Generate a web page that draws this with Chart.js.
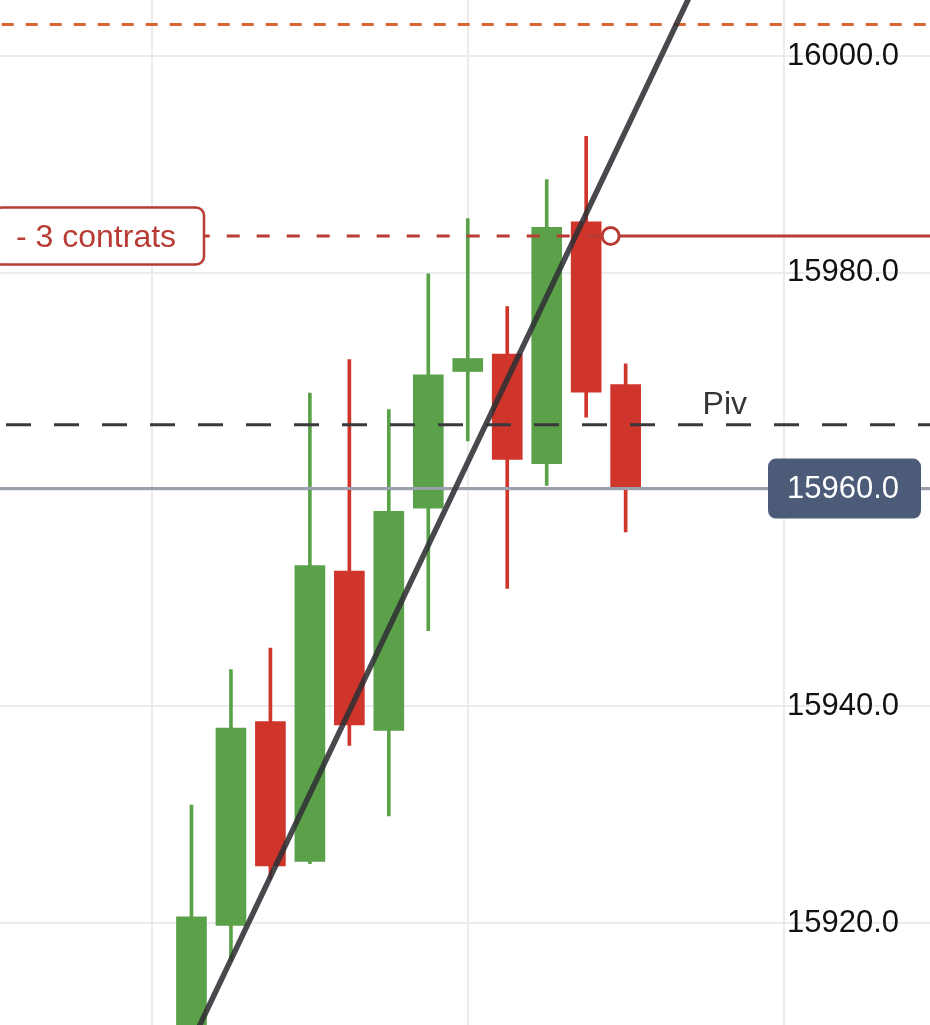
<!DOCTYPE html>
<html>
<head>
<meta charset="utf-8">
<script src="https://cdn.jsdelivr.net/npm/chart.js@4.4.1/dist/chart.umd.min.js"></script>
<style>
  html, body { margin: 0; padding: 0; background: #fff; }
  #wrap { width: 930px; height: 1025px; position: relative; }
</style>
</head>
<body>
<div id="wrap"><canvas id="chart"></canvas></div>
<script>
const FONT = "'Helvetica Neue', Helvetica, 'Liberation Sans', Arial, sans-serif";

// candles (index on the time axis)
const candles = [1, 2, 3, 4, 5, 6, 7, 8, 9, 10, 11, 12];
const opens  = [15905.0, 15919.8, 15938.6, 15925.7, 15952.5, 15937.8, 15958.3, 15970.9, 15972.5, 15962.4, 15984.7, 15969.7];
const closes = [15920.6, 15938.0, 15925.3, 15953.0, 15938.3, 15958.0, 15970.6, 15972.1, 15962.8, 15984.2, 15969.0, 15960.1];
const highs  = [15930.9, 15943.4, 15945.4, 15968.9, 15972.0, 15967.4, 15979.9, 15985.0, 15976.9, 15988.6, 15992.6, 15971.6];
const lows   = [15902.0, 15916.5, 15924.1, 15925.5, 15936.4, 15929.9, 15947.0, 15964.5, 15950.9, 15960.4, 15966.7, 15956.1];

// visible window
const xMin = -3.851, xMax = 19.711;
const yMin = 15910.62, yMax = 16005.17;
const yTickStep = 20;
const xGridStep = 8;

// levels
const orangeLevel = 16002.9;
const contractLevel = 15983.4;
const contractEntryX = 11.62;
const contractLabel = '- 3 contrats';
const pivotLevel = 15966.0;
const pivotLabel = 'Piv';
const pivotLabelX = 13.95;
const lastPrice = 15960.1;
const lastPriceLabel = '15960.0';

// trend line
const trendX = [1, 14];
const trendY = [15909.0, 16008.4];

const GREEN = '#5ba14a';
const RED = '#cf352b';
const RED_LINE = '#b83b34';

const candleColors = candles.map((c, i) => closes[i] >= opens[i] ? GREEN : RED);

function levelLine(level, color, dash, offset, order, x0 = xMin, x1 = xMax) {
    return {
        type: 'line',
        data: [{ x: x0, y: level }, { x: x1, y: level }],
        borderColor: color,
        borderWidth: 3,
        borderDash: dash,
        borderDashOffset: offset,
        pointRadius: 0,
        fill: false,
        order: order
    };
}

// scales take no room: the plot fills the whole canvas
function noRoom(s) {
    if (s.isHorizontal()) s.height = 0; else s.width = 0;
    s.paddingTop = 0;
    s.paddingBottom = 0;
    s.paddingLeft = 0;
    s.paddingRight = 0;
}

const labelPlugin = {
    id: 'levelLabels',
    afterDatasetsDraw(chart) {
        const { ctx, chartArea, scales: { x, y } } = chart;
        ctx.save();

        // contract label box
        const cy = y.getPixelForValue(contractLevel);
        ctx.beginPath();
        ctx.roundRect(-6, cy - 28.5, 210, 57, 8);
        ctx.fillStyle = '#fff';
        ctx.fill();
        ctx.lineWidth = 2.5;
        ctx.strokeStyle = RED_LINE;
        ctx.stroke();
        ctx.font = `32px ${FONT}`;
        ctx.fillStyle = RED_LINE;
        ctx.textAlign = 'left';
        ctx.textBaseline = 'middle';
        ctx.fillText(contractLabel, 16, cy + 2);

        // pivot label
        const py = y.getPixelForValue(pivotLevel);
        ctx.fillStyle = '#333338';
        ctx.textBaseline = 'alphabetic';
        ctx.textAlign = 'left';
        ctx.fillText(pivotLabel, x.getPixelForValue(pivotLabelX), py - 11);

        // last price box
        const ly = y.getPixelForValue(lastPrice);
        ctx.beginPath();
        ctx.roundRect(chartArea.right - 162, ly - 30, 153, 60, 8);
        ctx.fillStyle = '#4c5b78';
        ctx.fill();
        ctx.font = `31px ${FONT}`;
        ctx.fillStyle = '#fff';
        ctx.textAlign = 'right';
        ctx.textBaseline = 'middle';
        ctx.fillText(lastPriceLabel, chartArea.right - 31, ly + 1);

        ctx.restore();
    }
};

new Chart(document.getElementById('chart'), {
    type: 'bar',
    data: {
        datasets: [
            {
                type: 'line',
                data: trendX.map((v, i) => ({ x: v, y: trendY[i] })),
                borderColor: 'rgba(48, 48, 52, 0.88)',
                borderWidth: 5.5,
                pointRadius: 0,
                fill: false,
                order: 0
            },
            {
                type: 'scatter',
                data: [{ x: contractEntryX, y: contractLevel }],
                pointRadius: 8.5,
                pointBorderWidth: 3,
                pointBackgroundColor: '#fff',
                pointBorderColor: RED_LINE,
                showLine: false,
                order: 0
            },
            levelLine(orangeLevel, '#dc6431', [12, 12], 22.3, 1),
            levelLine(contractLevel, RED_LINE, [13, 17], 13.3, 1, xMin, contractEntryX),
            levelLine(contractLevel, RED_LINE, [], 0, 1, contractEntryX, xMax),
            levelLine(pivotLevel, '#38383d', [25, 23], 42, 1),
            levelLine(lastPrice, '#9aa1ad', [], 0, 1),
            {
                label: 'body',
                data: candles.map((c, i) => ({ x: c, y: [opens[i], closes[i]] })),
                backgroundColor: candleColors,
                borderWidth: 0,
                barThickness: 30,
                grouped: false,
                order: 3
            },
            {
                label: 'wick',
                data: candles.map((c, i) => ({ x: c, y: [lows[i], highs[i]] })),
                backgroundColor: candleColors,
                borderWidth: 0,
                barThickness: 3,
                grouped: false,
                order: 4
            }
        ]
    },
    options: {
        responsive: true,
        maintainAspectRatio: false,
        animation: false,
        layout: { padding: 0, autoPadding: false },
        plugins: {
            legend: { display: false },
            tooltip: { enabled: false }
        },
        scales: {
            x: {
                type: 'linear',
                min: xMin,
                max: xMax,
                offset: false,
                border: { display: false },
                grid: { color: '#ebebee', lineWidth: 2, drawTicks: false, offset: false },
                ticks: { display: false, stepSize: xGridStep, includeBounds: false },
                afterFit: noRoom
            },
            y: {
                position: 'right',
                min: yMin,
                max: yMax,
                border: { display: false },
                grid: { color: '#ebebee', lineWidth: 2, drawTicks: false },
                ticks: {
                    stepSize: yTickStep,
                    includeBounds: false,
                    mirror: true,
                    padding: -31,
                    color: '#111',
                    font: { family: FONT, size: 31 },
                    callback: v => v.toFixed(1)
                },
                afterFit: noRoom
            }
        }
    },
    plugins: [labelPlugin]
});
</script>
</body>
</html>
